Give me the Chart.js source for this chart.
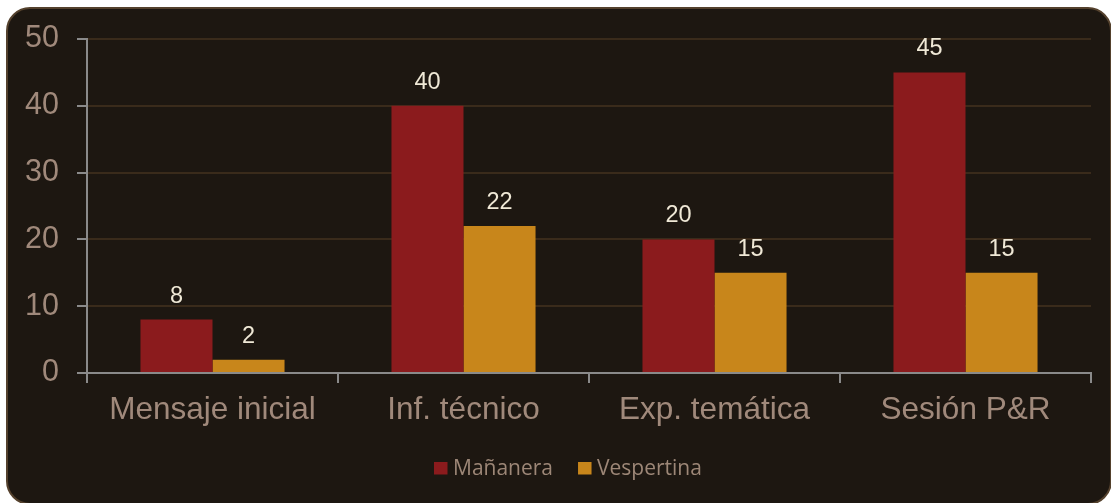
<!DOCTYPE html>
<html>
<head>
<meta charset="utf-8">
<script src="https://cdn.jsdelivr.net/npm/chart.js@4/dist/chart.umd.min.js"></script>
<style>
  html, body { margin: 0; padding: 0; background: #ffffff; }
  #wrap { position: relative; width: 1111px; height: 503px; overflow: hidden; }
  #panel { position: absolute; left: 6px; top: 7px; width: 1102px; height: 494px;
           background: #1d1711; border: 2px solid #54412d; border-radius: 24px; }
  #c { position: absolute; left: 0; top: 0; }
</style>
</head>
<body>
<div id="wrap">
  <div id="panel"></div>
  <canvas id="c" width="1111" height="503"></canvas>
</div>
<script>
const categories = ['Mensaje inicial', 'Inf. técnico', 'Exp. temática', 'Sesión P&R'];
const seriesNames = ['Mañanera', 'Vespertina'];
const mananera = [8, 40, 20, 45];
const vespertina = [2, 22, 15, 15];
const yTicks = [0, 10, 20, 30, 40, 50];

const colors = ['#8b1b1d', '#c8861b'];

const valueLabels = {
  id: 'valueLabels',
  afterDatasetsDraw(chart) {
    const ctx = chart.ctx;
    ctx.save();
    ctx.font = '23.5px "Liberation Sans", Arial, sans-serif';
    ctx.fillStyle = '#efe8d6';
    ctx.textAlign = 'center';
    ctx.textBaseline = 'alphabetic';
    chart.data.datasets.forEach((ds, i) => {
      const meta = chart.getDatasetMeta(i);
      meta.data.forEach((el, j) => {
        ctx.fillText(String(ds.data[j]), el.x, el.y - 17);
      });
    });
    ctx.restore();
  }
};

const customLegend = {
  id: 'customLegend',
  afterDraw(chart) {
    const ctx = chart.ctx;
    ctx.save();
    ctx.font = '21px "Open Sans", "Noto Sans", sans-serif';
    ctx.textBaseline = 'alphabetic';
    ctx.textAlign = 'left';
    let x = 434;
    const baseY = 475;
    chart.data.datasets.forEach((ds) => {
      ctx.fillStyle = ds.backgroundColor;
      ctx.fillRect(x, 462, 13.5, 12.5);
      ctx.fillStyle = '#9d8777';
      ctx.fillText(ds.label, x + 19, baseY);
      x += 19 + ctx.measureText(ds.label).width + 25;
    });
    ctx.restore();
  }
};

new Chart(document.getElementById('c'), {
  type: 'bar',
  data: {
    labels: categories,
    datasets: [
      { label: seriesNames[0], data: mananera, backgroundColor: colors[0] },
      { label: seriesNames[1], data: vespertina, backgroundColor: colors[1] }
    ]
  },
  options: {
    responsive: false,
    animation: false,
    events: [],
    layout: { padding: { top: 39, right: 20, left: 0, bottom: 0 } },
    datasets: { bar: { categoryPercentage: 0.574, barPercentage: 1.0 } },
    plugins: { legend: { display: false }, tooltip: { enabled: false } },
    scales: {
      x: {
        grid: { display: true, drawOnChartArea: false, offset: true, tickLength: 10, tickColor: '#8a8a8a', lineWidth: 2 },
        border: { color: '#8a8a8a', width: 2 },
        ticks: { color: '#a0897b', font: { family: '"Liberation Sans", Arial, sans-serif', size: 31.5 }, padding: 8, maxRotation: 0 },
        afterFit(scale) { scale.height = 130; }
      },
      y: {
        min: 0, max: 50,
        afterBuildTicks(scale) { scale.ticks = yTicks.map(v => ({ value: v })); },
        grid: { color: '#3a2b1b', lineWidth: 2, tickLength: 10, tickColor: '#8a8a8a' },
        border: { color: '#8a8a8a', width: 2 },
        ticks: { color: '#a0897b', font: { family: '"Liberation Sans", Arial, sans-serif', size: 30.5 }, padding: 18 },
        afterFit(scale) { scale.width = 87; }
      }
    }
  },
  plugins: [valueLabels, customLegend]
});
</script>
</body>
</html>
